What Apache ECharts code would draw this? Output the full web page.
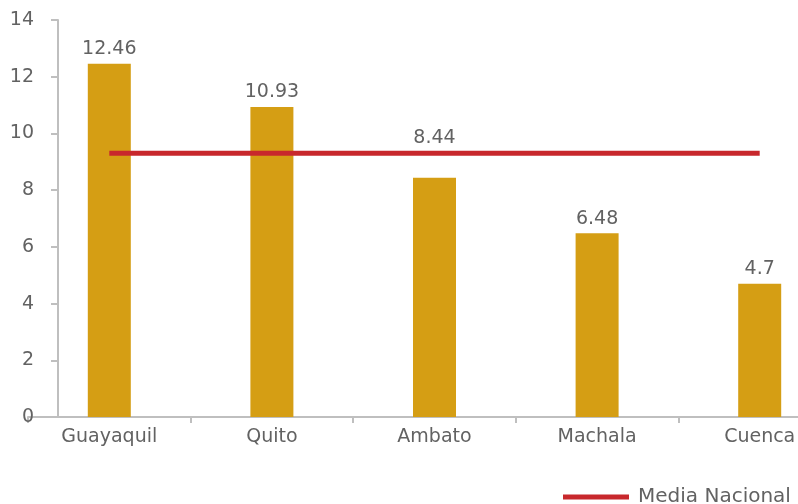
<!DOCTYPE html>
<html>
<head>
<meta charset="utf-8">
<script src="https://cdn.jsdelivr.net/npm/echarts@6/dist/echarts.min.js"></script>
<style>html,body{margin:0;padding:0;background:#fff;overflow:hidden;width:798px;height:504px}#c{width:850px;height:504px}</style>
</head>
<body>
<div id="c"></div>
<script>
const categories = ['Guayaquil', 'Quito', 'Ambato', 'Machala', 'Cuenca'];
const tasaValues = [12.46, 10.93, 8.44, 6.48, 4.7];
const mediaNacional = [9.3, 9.3, 9.3, 9.3, 9.3];
const yTicks = [0, 2, 4, 6, 8, 10, 12, 14];

const FONT = 'DejaVu Sans';
const TXT = '#626262';
const chart = echarts.init(document.getElementById('c'), null, {renderer: 'canvas'});
chart.setOption({
  animation: false,
  textStyle: {fontFamily: FONT},
  grid: {left: 28, width: 813, top: 20, bottom: 87, containLabel: false},
  legend: {
    data: ['Media Nacional'],
    left: 558, top: 482,
    icon: 'rect', itemWidth: 66, itemHeight: 5, itemGap: 14,
    textStyle: {fontFamily: FONT, fontSize: 20, color: TXT, padding: [0, 0, 0, 4]}
  },
  xAxis: {
    type: 'category', data: categories, boundaryGap: true,
    axisLine: {lineStyle: {color: '#bfbfbf', width: 2}},
    axisTick: {show: true, length: 6, lineStyle: {color: '#bfbfbf', width: 2}},
    axisLabel: {fontFamily: FONT, fontSize: 19, color: TXT, margin: 11}
  },
  yAxis: {
    type: 'value', min: 0, max: 14, interval: 2, offset: -30,
    axisLine: {show: true, lineStyle: {color: '#bfbfbf', width: 2}},
    axisTick: {show: true, length: 7, lineStyle: {color: '#bfbfbf', width: 2}},
    splitLine: {show: false},
    axisLabel: {fontFamily: FONT, fontSize: 19, color: TXT, margin: 24,
      formatter: v => yTicks.includes(v) ? String(v) : ''}
  },
  series: [
    {
      name: 'Tasa', type: 'bar', barWidth: 43,
      itemStyle: {color: '#d59e14'},
      data: tasaValues.map((v, i) => i === 2
        ? {value: v, label: {offset: [0, -25]}}
        : v),
      label: {show: true, position: 'top', distance: 5,
        fontFamily: FONT, fontSize: 19, color: TXT,
        formatter: p => String(p.value)}
    },
    {
      name: 'Media Nacional', type: 'line', data: mediaNacional,
      symbol: 'none', showSymbol: false,
      lineStyle: {color: '#c8282c', width: 5},
      itemStyle: {color: '#c8282c'},
      z: 5
    }
  ]
});
</script>
</body>
</html>
